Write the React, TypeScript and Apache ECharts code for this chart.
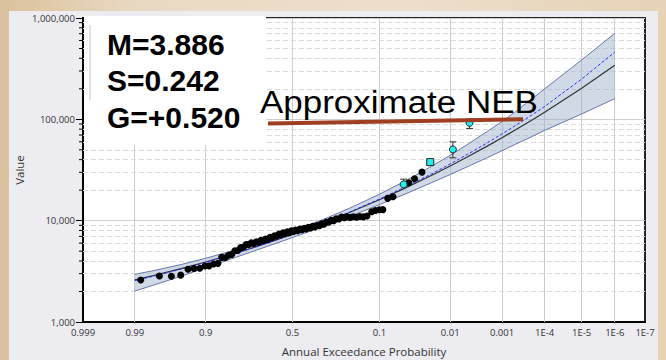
import React, { useEffect, useRef } from 'react';
import * as echarts from 'echarts';

// ---------- axis ticks ----------
const tickProbs = [0.999, 0.99, 0.9, 0.5, 0.1, 0.01, 0.001, 1e-4, 1e-5, 1e-6, 1e-7];
const tickLabels = ['0.999', '0.99', '0.9', '0.5', '0.1', '0.01', '0.001', '1E-4', '1E-5', '1E-6', '1E-7'];
const yMin = 1000;
const yMax = 1000000;
const yMinorSteps = [2, 3, 4, 5, 6, 7, 8, 9];
const yDecades = [1000, 10000, 100000];

// ---------- frequency curves (annual exceedance probability -> value) ----------
const curveProbs = [0.99, 0.98, 0.95, 0.9, 0.8, 0.7, 0.5, 0.3, 0.2, 0.1, 0.05, 0.02, 0.01, 0.005, 0.002, 0.001, 5e-4, 2e-4, 1e-4, 1e-5, 1e-6];
const fittedCurve = [2604, 2872, 3363, 3913, 4775, 5569, 7332, 9908, 12045, 16075, 20720, 28050, 34670, 42450, 54720, 65840, 78830, 99260, 117700, 203000, 341700];
const expectedCurve = [2557, 2826, 3325, 3877, 4753, 5556, 7332, 9954, 12160, 16335, 21200, 29030, 36300, 44960, 58900, 71850, 87000, 111400, 133900, 249700, 460800];
const upperLimit = [2956, 3207, 3687, 4253, 5140, 5968, 7858, 10765, 13275, 18245, 24233, 34510, 44150, 56210, 76400, 95150, 119300, 161000, 199900, 385000, 705000];
const lowerLimit = [2021, 2307, 2829, 3424, 4335, 5138, 6810, 9141, 10987, 14391, 18128, 23760, 28500, 33950, 42000, 49020, 56850, 67880, 77780, 113000, 160000];

// ---------- observed peaks (plotting position, value) ----------
const obsProbs = [
  0.9874, 0.9752, 0.963, 0.9504, 0.9384, 0.927, 0.9142, 0.9013, 0.8906, 0.8776,
  0.8642, 0.8519, 0.8395, 0.8272, 0.8148, 0.8025, 0.7901, 0.7778, 0.7654, 0.7531,
  0.7407, 0.7284, 0.716, 0.7037, 0.6914, 0.679, 0.6667, 0.6543, 0.642, 0.6296,
  0.6173, 0.6049, 0.5926, 0.5802, 0.5679, 0.5556, 0.5432, 0.5309, 0.5185, 0.5062,
  0.4938, 0.4815, 0.4691, 0.4568, 0.4444, 0.4321, 0.4198, 0.4074, 0.3951, 0.3827,
  0.3704, 0.358, 0.3457, 0.3333, 0.321, 0.3086, 0.2963, 0.284, 0.2716, 0.2593,
  0.2469, 0.2346, 0.2222, 0.2099, 0.1975, 0.1852, 0.1728, 0.1605, 0.1481, 0.1358,
  0.1214, 0.1108, 0.1, 0.0913, 0.0802, 0.069, 0.0431, 0.0359, 0.0281,
];
const obsValues = [
  2595, 2840, 2825, 2900, 3310, 3370, 3390, 3570, 3580, 3730,
  3790, 4345, 4300, 4560, 4650, 5050, 5080, 5420, 5500, 5830,
  5820, 6050, 5960, 6200, 6120, 6400, 6330, 6600, 6540, 6850,
  6780, 7100, 7050, 7360, 7280, 7600, 7480, 7750, 7620, 7950,
  7820, 8100, 7980, 8250, 8150, 8420, 8300, 8600, 8480, 8780,
  8650, 8950, 8900, 9320, 9250, 9700, 9650, 10080, 10000, 10450,
  10400, 10850, 10700, 10900, 10750, 10950, 10800, 11000, 10900, 11100,
  12250, 12580, 12810, 12850, 16600, 17220, 23650, 25880, 30130,
];

// ---------- interval / perception points ----------
const intervalProbs = [0.0506, 0.0211, 0.009, 0.00451];
const intervalValues = [22800, 37840, 50470, 92300];
const intervalLow = [22800, 35500, 41700, 81300];
const intervalHigh = [25700, 38500, 59950, 101000];
const intervalSymbols = ['circle', 'rect', 'circle', 'circle'];

// inverse standard normal CDF (Acklam) - probability-paper transform
function invNorm(p: number): number {
  const a = [-3.969683028665376e1, 2.209460984245205e2, -2.759285104469687e2, 1.38357751867269e2, -3.066479806614716e1, 2.506628277459239];
  const b = [-5.447609879822406e1, 1.615858368580409e2, -1.556989798598866e2, 6.680131188771972e1, -1.328068155288572e1];
  const c = [-7.784894002430293e-3, -3.223964580411365e-1, -2.400758277161838, -2.549732539343734, 4.374664141464968, 2.938163982698783];
  const d = [7.784695709041462e-3, 3.224671290700398e-1, 2.445134137142996, 3.754408661907416];
  const pl = 0.02425;
  if (p < pl) {
    const q = Math.sqrt(-2 * Math.log(p));
    return (((((c[0] * q + c[1]) * q + c[2]) * q + c[3]) * q + c[4]) * q + c[5]) / ((((d[0] * q + d[1]) * q + d[2]) * q + d[3]) * q + 1);
  }
  if (p > 1 - pl) {
    const q = Math.sqrt(-2 * Math.log(1 - p));
    return -(((((c[0] * q + c[1]) * q + c[2]) * q + c[3]) * q + c[4]) * q + c[5]) / ((((d[0] * q + d[1]) * q + d[2]) * q + d[3]) * q + 1);
  }
  const q = p - 0.5;
  const r = q * q;
  return ((((((a[0] * r + a[1]) * r + a[2]) * r + a[3]) * r + a[4]) * r + a[5]) * q) / (((((b[0] * r + b[1]) * r + b[2]) * r + b[3]) * r + b[4]) * r + 1);
}
const zOf = (pExceed: number) => -invNorm(pExceed);

const FONT = "'Open Sans', 'Noto Sans', sans-serif";

export default function App() {
  const ref = useRef<HTMLDivElement>(null);

  useEffect(() => {
    if (!ref.current) return;
    const chart = echarts.init(ref.current, null, { renderer: 'svg' });

    const tickZ = tickProbs.map(zOf);
    const xMin = tickZ[0];
    const xMax = tickZ[tickZ.length - 1];
    const cz = curveProbs.map(zOf);
    const pairs = (vals: number[]) => cz.map((z, i) => [z, vals[i]]);

    const minorY: number[] = [];
    yDecades.forEach((dcd) => yMinorSteps.forEach((k) => minorY.push(dcd * k)));

    const gridMarks: any[] = [];
    tickZ.slice(1, -1).forEach((z) => gridMarks.push({ xAxis: z, lineStyle: { color: '#cbcbcb', width: 1, type: 'solid' } }));
    minorY.forEach((v) => gridMarks.push({ yAxis: v, lineStyle: { color: '#dadada', width: 1, type: [5, 3] } }));

    const option: any = {
      animation: false,
      grid: {
        left: 83, right: 21, top: 18, bottom: 38,
        containLabel: false, outerBoundsMode: 'none',
        show: true, backgroundColor: '#ffffff', borderColor: '#222', borderWidth: 2,
      },
      xAxis: {
        type: 'value',
        min: xMin,
        max: xMax,
        name: 'Annual Exceedance Probability',
        nameLocation: 'middle',
        nameGap: 23,
        nameMoveOverlap: false,
        nameTextStyle: { fontSize: 11.5, color: '#333', fontFamily: FONT },
        axisLine: { show: true, onZero: false, lineStyle: { color: '#000', width: 2 } },
        axisTick: { show: false, customValues: tickZ },
        axisLabel: {
          customValues: tickZ,
          showMinLabel: true,
          showMaxLabel: true,
          fontSize: 9.5,
          color: '#333',
          fontFamily: FONT,
          margin: 5,
          formatter: (v: number) => {
            let best = 0;
            tickZ.forEach((z, i) => { if (Math.abs(z - v) < Math.abs(tickZ[best] - v)) best = i; });
            return tickLabels[best];
          },
        },
        splitLine: { show: false },
      },
      yAxis: {
        type: 'log',
        logBase: 10,
        min: yMin,
        max: yMax,
        name: 'Value',
        nameLocation: 'middle',
        nameGap: 58,
        nameMoveOverlap: false,
        nameTextStyle: { fontSize: 11.5, color: '#333', fontFamily: FONT },
        axisLine: { show: true, onZero: false, lineStyle: { color: '#000', width: 2 } },
        axisTick: { show: true, length: 7, lineStyle: { color: '#000', width: 1 } },
        axisLabel: { fontSize: 9.5, color: '#333', fontFamily: FONT, margin: 8, formatter: (v: number) => Math.round(v).toLocaleString('en-US') },
        splitLine: { show: true, lineStyle: { color: '#cfcfcf', width: 1 } },
        minorTick: { show: false },
        minorSplitLine: { show: false },
      },
      series: [
        {
          type: 'line',
          data: [[xMin, yMin]],
          symbol: 'none',
          lineStyle: { opacity: 0 },
          silent: true,
          z: 1,
          markLine: { silent: true, z: 1, symbol: ['none', 'none'], label: { show: false }, emphasis: { disabled: true }, data: gridMarks },
        },
        {
          type: 'custom',
          silent: true,
          z: 2,
          data: [[cz[0], lowerLimit[0]]],
          encode: { x: 0, y: 1 },
          renderItem: (_params: any, api: any) => {
            const pts: number[][] = [];
            cz.forEach((z, i) => pts.push(api.coord([z, upperLimit[i]])));
            for (let i = cz.length - 1; i >= 0; i--) pts.push(api.coord([cz[i], lowerLimit[i]]));
            return { type: 'polygon', shape: { points: pts }, style: { fill: 'rgba(155,176,204,0.47)', stroke: 'none' } };
          },
        },
        { type: 'line', data: pairs(upperLimit), symbol: 'none', silent: true, z: 3, lineStyle: { color: '#6a76aa', width: 1 } },
        { type: 'line', data: pairs(lowerLimit), symbol: 'none', silent: true, z: 3, lineStyle: { color: '#6a76aa', width: 1 } },
        { type: 'line', data: pairs(fittedCurve), symbol: 'none', silent: true, z: 4, lineStyle: { color: '#333', width: 1.2 } },
        { type: 'line', data: pairs(expectedCurve), symbol: 'none', silent: true, z: 4, lineStyle: { color: '#2d2dff', width: 1, type: [3, 2] } },
        {
          type: 'scatter',
          data: obsProbs.map((p, i) => [zOf(p), obsValues[i]]),
          symbol: 'circle',
          symbolSize: 7,
          silent: true,
          z: 5,
          itemStyle: { color: '#000', opacity: 1 },
        },
        {
          type: 'custom',
          silent: true,
          z: 6,
          data: intervalProbs.map((p, i) => [zOf(p), intervalLow[i], intervalHigh[i]]),
          encode: { x: 0, y: [1, 2] },
          renderItem: (_params: any, api: any) => {
            const x = api.value(0);
            const lo = api.coord([x, api.value(1)]);
            const hi = api.coord([x, api.value(2)]);
            const st = { stroke: '#333', lineWidth: 1 };
            return {
              type: 'group',
              children: [
                { type: 'line', shape: { x1: lo[0], y1: lo[1], x2: hi[0], y2: hi[1] }, style: st },
                { type: 'line', shape: { x1: lo[0] - 3.5, y1: lo[1], x2: lo[0] + 3.5, y2: lo[1] }, style: st },
                { type: 'line', shape: { x1: hi[0] - 3.5, y1: hi[1], x2: hi[0] + 3.5, y2: hi[1] }, style: st },
              ],
            };
          },
        },
        {
          type: 'scatter',
          silent: true,
          z: 7,
          symbolSize: 7,
          itemStyle: { color: '#22f0f0', borderColor: '#222', borderWidth: 1, opacity: 1 },
          data: intervalProbs.map((p, i) => ({ value: [zOf(p), intervalValues[i]], symbol: intervalSymbols[i] })),
        },
        {
          type: 'custom',
          silent: true,
          clip: false,
          z: 8,
          data: minorY.map((v) => [xMin, v]),
          encode: { x: 0, y: 1 },
          renderItem: (_params: any, api: any) => {
            const p = api.coord([api.value(0), api.value(1)]);
            return { type: 'line', shape: { x1: p[0] - 4, y1: p[1], x2: p[0], y2: p[1] }, style: { stroke: '#000', lineWidth: 1 } };
          },
        },
      ],
      graphic: [
        { type: 'rect', z: 100, shape: { x: 84, y: 16, width: 182, height: 129 }, style: { fill: '#ffffff' } },
        { type: 'line', z: 101, shape: { x1: 90, y1: 25, x2: 90, y2: 100 }, style: { stroke: '#c4c4c4', lineWidth: 1 } },
        { type: 'text', z: 102, x: 107, y: 44, style: { text: 'M=3.886', fill: '#000', font: 'bold 30px "Liberation Sans", Arial, sans-serif', align: 'left', verticalAlign: 'middle', textAlign: 'left', textVerticalAlign: 'middle' } },
        { type: 'text', z: 102, x: 107, y: 80.5, style: { text: 'S=0.242', fill: '#000', font: 'bold 30px "Liberation Sans", Arial, sans-serif', align: 'left', verticalAlign: 'middle', textAlign: 'left', textVerticalAlign: 'middle' } },
        { type: 'text', z: 102, x: 107, y: 117.5, style: { text: 'G=+0.520', fill: '#000', font: 'bold 30px "Liberation Sans", Arial, sans-serif', align: 'left', verticalAlign: 'middle', textAlign: 'left', textVerticalAlign: 'middle' } },
        { type: 'text', z: 102, x: 260, y: 102, scaleX: 1.128, style: { text: 'Approximate NEB', fill: '#000', font: '31px "Liberation Sans", Arial, sans-serif', align: 'left', verticalAlign: 'middle', textAlign: 'left', textVerticalAlign: 'middle' } },
        { type: 'line', z: 103, shape: { x1: 268, y1: 123.5, x2: 523, y2: 119.3 }, style: { stroke: '#9f3f22', lineWidth: 4 } },
      ],
    };

    chart.setOption(option);
    return () => chart.dispose();
  }, []);

  return (
    <div
      style={{
        position: 'fixed',
        left: 0,
        top: 0,
        width: 666,
        height: 360,
        overflow: 'hidden',
        background: 'linear-gradient(90deg, #dbc19d 0%, #e9d8c1 20%, #eddfcc 60%, #e6d2b6 100%)',
      }}
    >
      <div style={{ position: 'absolute', left: 9, top: 11, width: 649, height: 349, background: '#ececf1' }} />
      <div ref={ref} style={{ position: 'absolute', left: 0, top: 0, width: 666, height: 360 }} />
    </div>
  );
}
